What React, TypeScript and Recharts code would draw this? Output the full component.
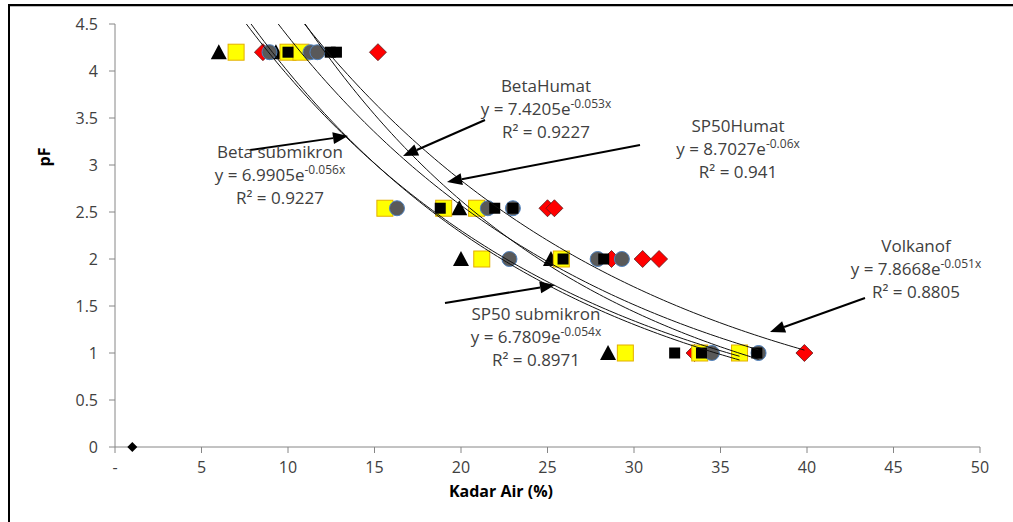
import React from 'react';
import { ComposedChart, Scatter, XAxis, YAxis } from 'recharts';

const xTicks = [0, 5, 10, 15, 20, 25, 30, 35, 40, 45, 50];
const yTicks = [0, 0.5, 1, 1.5, 2, 2.5, 3, 3.5, 4, 4.5];

// marker series (x = Kadar Air %, y = pF)
const seriesTriangle = [
  { x: 6.0, y: 4.2 }, { x: 9.3, y: 4.2 }, { x: 19.9, y: 2.54 }, { x: 20.0, y: 2.0 },
  { x: 25.2, y: 2.0 }, { x: 28.5, y: 1.0 },
];
const seriesRed = [
  { x: 8.55, y: 4.2 }, { x: 15.2, y: 4.2 }, { x: 25.0, y: 2.54 }, { x: 25.4, y: 2.54 },
  { x: 28.7, y: 2.0 }, { x: 30.5, y: 2.0 }, { x: 31.45, y: 2.0 }, { x: 33.5, y: 1.0 }, { x: 39.85, y: 1.0 },
];
const seriesYellow = [
  { x: 7.0, y: 4.2 }, { x: 10.0, y: 4.2 }, { x: 10.75, y: 4.2 }, { x: 15.6, y: 2.54 },
  { x: 19.0, y: 2.54 }, { x: 20.9, y: 2.54 }, { x: 21.2, y: 2.0 }, { x: 25.8, y: 2.0 },
  { x: 29.5, y: 1.0 }, { x: 33.8, y: 1.0 }, { x: 36.1, y: 1.0 },
];
const seriesGray = [
  { x: 8.93, y: 4.2 }, { x: 11.3, y: 4.2 }, { x: 11.7, y: 4.2 }, { x: 16.3, y: 2.54 },
  { x: 21.55, y: 2.54 }, { x: 23.0, y: 2.54 }, { x: 22.8, y: 2.0 }, { x: 27.9, y: 2.0 },
  { x: 29.3, y: 2.0 }, { x: 34.5, y: 1.0 }, { x: 37.2, y: 1.0 },
];
const seriesBlack = [
  { x: 10.0, y: 4.2 }, { x: 12.44, y: 4.2 }, { x: 12.8, y: 4.2 }, { x: 18.8, y: 2.54 },
  { x: 21.95, y: 2.54 }, { x: 23.0, y: 2.54 }, { x: 25.9, y: 2.0 }, { x: 28.25, y: 2.0 },
  { x: 32.35, y: 1.0 }, { x: 33.9, y: 1.0 }, { x: 37.1, y: 1.0 },
];
const seriesOrigin = [{ x: 1.0, y: 0 }];

// exponential trendlines y = a e^(-b x), as printed on the chart
const trendNames = ['Beta submikron', 'BetaHumat', 'SP50 submikron', 'SP50Humat', 'Volkanof'];
const trendA = [6.9905, 7.4205, 6.7809, 8.7027, 7.8668];
const trendB = [0.056, 0.053, 0.054, 0.06, 0.051];
const trendR2 = ['0.9227', '0.9227', '0.8971', '0.941', '0.8805'];
const trendXMax = [36.1, 37.2, 36.1, 37.2, 39.85];

const Y_MAX = 4.5;

function trendPoints(a: number, b: number, xMax: number) {
  const x0 = Math.log(a / Y_MAX) / b;
  const pts: { x: number; y: number }[] = [];
  for (let x = x0; x < xMax; x += 0.25) pts.push({ x, y: a * Math.exp(-b * x) });
  pts.push({ x: xMax, y: a * Math.exp(-b * xMax) });
  return pts;
}

const Tri = (p: any) => (
  <polygon points={`${p.cx},${p.cy - 8} ${p.cx + 8},${p.cy + 7} ${p.cx - 8},${p.cy + 7}`} fill="#000" />
);
const YellowSq = (p: any) => (
  <rect x={p.cx - 8} y={p.cy - 8} width={16} height={16} fill="#FFFF00" stroke="#E3AE00" strokeWidth={1} />
);
const RedDia = (p: any) => (
  <polygon points={`${p.cx},${p.cy - 8.5} ${p.cx + 8.5},${p.cy} ${p.cx},${p.cy + 8.5} ${p.cx - 8.5},${p.cy}`} fill="#FF0000" stroke="#5a1a1a" strokeWidth={0.8} />
);
const GrayCirc = (p: any) => (
  <circle cx={p.cx} cy={p.cy} r={7.5} fill="#595959" stroke="#4F81BD" strokeWidth={1} />
);
const BlackSq = (p: any) => (
  <rect x={p.cx - 5.5} y={p.cy - 5.5} width={11} height={11} fill="#000" />
);
const BlackDia = (p: any) => (
  <polygon points={`${p.cx},${p.cy - 5} ${p.cx + 5},${p.cy} ${p.cx},${p.cy + 5} ${p.cx - 5},${p.cy}`} fill="#000" />
);
const NoShape = () => <g />;

const FONT = '"Open Sans", "DejaVu Sans", sans-serif';
const TXT = '#404040';

const labelPos = [
  { cx: 280, y: 158 },
  { cx: 546, y: 92 },
  { cx: 536, y: 320 },
  { cx: 738, y: 132 },
  { cx: 916, y: 252 },
];

const arrows = [
  { x1: 250, y1: 150, x2: 348, y2: 136 },
  { x1: 485, y1: 120, x2: 403, y2: 156 },
  { x1: 445, y1: 303, x2: 555, y2: 285 },
  { x1: 640, y1: 145, x2: 447, y2: 182 },
  { x1: 865, y1: 298, x2: 770, y2: 332 },
];

function Arrow({ x1, y1, x2, y2 }: { x1: number; y1: number; x2: number; y2: number }) {
  const dx = x2 - x1;
  const dy = y2 - y1;
  const len = Math.sqrt(dx * dx + dy * dy);
  const ux = dx / len;
  const uy = dy / len;
  const hl = 15;
  const hw = 6;
  const bx = x2 - ux * hl;
  const by = y2 - uy * hl;
  const pts = `${x2},${y2} ${bx - uy * hw},${by + ux * hw} ${bx + uy * hw},${by - ux * hw}`;
  return (
    <g>
      <line x1={x1} y1={y1} x2={bx} y2={by} stroke="#000" strokeWidth={2} />
      <polygon points={pts} fill="#000" />
    </g>
  );
}

export default function App() {
  return (
    <div style={{ position: 'absolute', left: 0, top: 0, width: 1013, height: 522, background: '#fff', overflow: 'hidden' }}>
      <div style={{ position: 'absolute', left: 7.5, top: 4, width: 1013, height: 522, borderLeft: '2.5px solid #000', borderTop: '2.5px solid #000', boxShadow: 'inset 0 1px 0 #bbb' }} />
      <ComposedChart width={1013} height={522} margin={{ top: 24, right: 33, bottom: 45, left: 55 }}>
        <XAxis
          type="number"
          dataKey="x"
          domain={[0, 50]}
          ticks={xTicks}
          height={30}
          stroke="#868686"
          tickSize={6}
          tickMargin={9}
          tick={{ fill: TXT, fontSize: 16, fontFamily: FONT }}
          tickFormatter={(v: number) => (v === 0 ? '-' : String(v))}
        />
        <YAxis
          type="number"
          dataKey="y"
          domain={[0, 4.5]}
          ticks={yTicks}
          width={60}
          stroke="#868686"
          tickSize={6}
          tickMargin={11}
          tick={{ fill: TXT, fontSize: 16, fontFamily: FONT }}
        />
        <Scatter data={seriesOrigin} shape={BlackDia} isAnimationActive={false} />
        <Scatter data={seriesRed} shape={RedDia} isAnimationActive={false} />
        <Scatter data={seriesTriangle} shape={Tri} isAnimationActive={false} />
        <Scatter data={seriesYellow} shape={YellowSq} isAnimationActive={false} />
        <Scatter data={seriesGray} shape={GrayCirc} isAnimationActive={false} />
        <Scatter data={seriesBlack} shape={BlackSq} isAnimationActive={false} />
        {trendNames.map((n, i) => (
          <Scatter
            key={n}
            data={trendPoints(trendA[i], trendB[i], trendXMax[i])}
            shape={NoShape}
            line={{ stroke: '#111', strokeWidth: 1 }}
            isAnimationActive={false}
          />
        ))}
      </ComposedChart>
      <svg width={1013} height={522} style={{ position: 'absolute', left: 0, top: 0, pointerEvents: 'none' }}>
        <text x={50} y={157} transform="rotate(-90 50 157)" textAnchor="middle" fontFamily={FONT} fontWeight="bold" fontSize={16} fill="#000">pF</text>
        <text x={501} y={497} textAnchor="middle" fontFamily={FONT} fontWeight="bold" fontSize={16} fill="#000">Kadar Air (%)</text>
        {arrows.map((a, i) => (
          <Arrow key={i} {...a} />
        ))}
        {trendNames.map((n, i) => {
          const p = labelPos[i];
          return (
            <g key={n} fontFamily={FONT} fontSize={17} fill={TXT} textAnchor="middle">
              <text x={p.cx} y={p.y}>{n}</text>
              <text x={p.cx} y={p.y + 23}>
                {`y = ${trendA[i]}e`}
                <tspan fontSize={12} dy={-7}>{`-${trendB[i]}x`}</tspan>
              </text>
              <text x={p.cx} y={p.y + 46}>{`R² = ${trendR2[i]}`}</text>
            </g>
          );
        })}
      </svg>
    </div>
  );
}
